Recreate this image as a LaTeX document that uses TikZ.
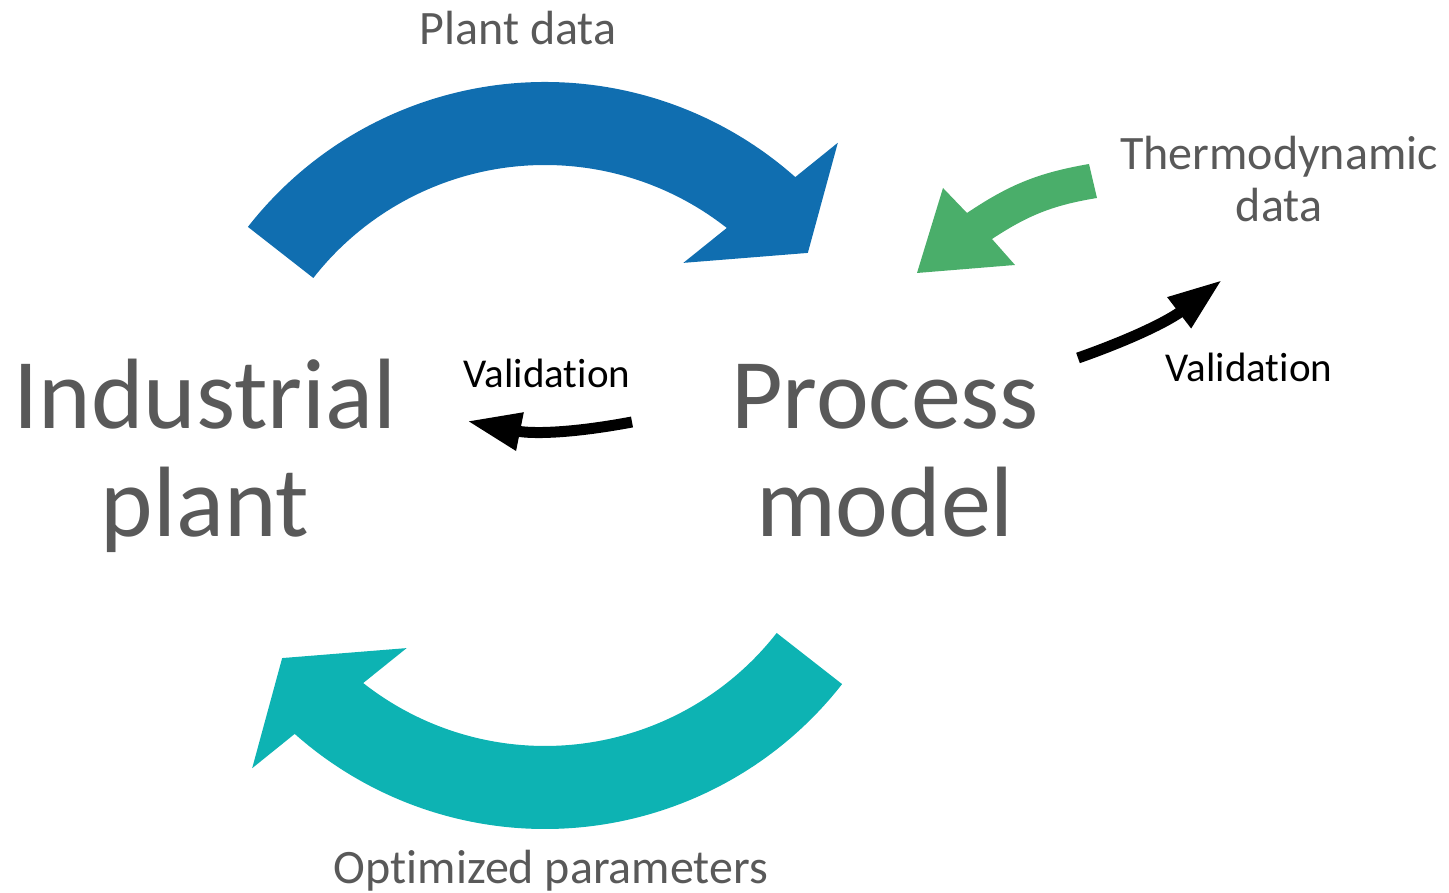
\documentclass[tikz,border=0pt]{standalone}
\usepackage{fontspec}
\setmainfont{Carlito}[Ligatures=NoCommon]
\usetikzlibrary{arrows.meta}
\definecolor{plantblue}{RGB}{16,110,176}
\definecolor{optteal}{RGB}{13,179,179}
\definecolor{thermogreen}{RGB}{74,174,106}
\definecolor{txtgray}{RGB}{89,89,89}
\tikzset{
  bigtxt/.style={text=txtgray, inner sep=0pt, align=center,
                 font=\fontsize{100}{108}\selectfont},
  lbl/.style={text=txtgray, inner sep=0pt, align=center,
              font=\fontsize{48}{52}\selectfont},
  vallbl/.style={text=black, inner sep=0pt,
                 font=\fontsize{41}{45}\selectfont},
  valarr/.style={line width=11pt, -{Triangle[length=54pt, width=36pt]}},
}

\begin{document}
\begin{tikzpicture}[x=1pt, y=1pt]
  \useasboundingbox (0,0) rectangle (1449,893);

  % ── top loop arrow: plant data ─────────────────────────
  \begin{scope}[shift={(545,434)}]
    \fill[plantblue] (142:377) arc[start angle=142, end angle=48.4, radius=377]
      -- (47.2:431) -- (38.1:334) -- (54.8:240) -- (51.8:294)
      arc[start angle=51.8, end angle=142, radius=294] -- cycle;
  \end{scope}

  % ── bottom loop arrow: optimized parameters ────────────
  \begin{scope}[shift={(545,441)}, rotate=180]
    \fill[optteal] (142:377) arc[start angle=142, end angle=48.4, radius=377]
      -- (47.2:431) -- (38.1:334) -- (54.8:240) -- (51.8:294)
      arc[start angle=51.8, end angle=142, radius=294] -- cycle;
  \end{scope}

  % ── thermodynamic data arrow ───────────────────────────
  \fill[thermogreen] (1089,729) to[bend right=12] (967,680) -- (943,705)
    -- (917,620) -- (1015,628) -- (992,654) to[bend left=12] (1097,695) -- cycle;

  % ── labels ─────────────────────────────────────────────
  \node[bigtxt, anchor=base] (plant) at (205,356) {Industrial\\plant};
  \node[bigtxt, anchor=base] (model) at (885,356) {Process\\model};
  \node[lbl, anchor=base] (plantdata) at (518,848) {Plant data};
  \node[lbl, anchor=base] (optpar) at (551,9.5) {Optimized parameters};
  \node[lbl, anchor=base] (thermo) at (1279,671) {Thermodynamic\\data};
  \node[vallbl, anchor=base] (valL) at (547,505) {Validation};
  \node[vallbl, anchor=base] (valR) at (1249,511) {Validation};

  % ── validation arrows ──────────────────────────────────
  \coordinate (vl-s) at (632,471);
  \coordinate (vl-e) at (467,472);
  \draw[valarr] (vl-s) to[bend left=11] (vl-e);
  \coordinate (vr-s) at (1078,535);
  \coordinate (vr-e) at (1222,613);
  \draw[valarr] (vr-s) to[bend right=9] (vr-e);
\end{tikzpicture}
\end{document}
